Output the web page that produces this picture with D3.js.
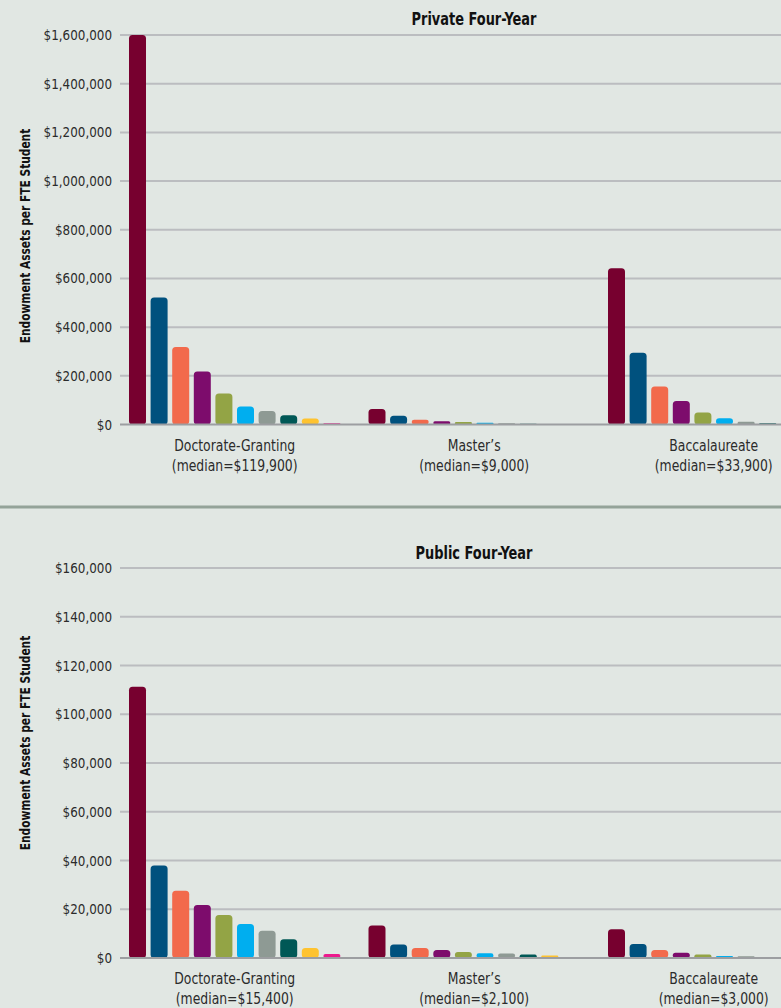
<!DOCTYPE html>
<html>
<head>
<meta charset="utf-8">
<script src="https://cdn.jsdelivr.net/npm/d3@7"></script>
<style>
  html, body { margin: 0; padding: 0; background: #e1e7e3; }
  svg { display: block; }
  text { font-family: "Liberation Sans Narrow", "DejaVu Sans Condensed", "Arial Narrow", sans-serif; }
</style>
</head>
<body>
<svg id="chart" width="781" height="1008"></svg>
<script>
// ---------- data ----------
const groups = ["Doctorate-Granting", "Master\u2019s", "Baccalaureate"];

const privateTitle = "Private Four-Year";
const privateMedians = ["$119,900", "$9,000", "$33,900"];
const privateDoctorate = [1600000, 522000, 318000, 218000, 127000, 74000, 55000, 38000, 25000, 5000];
const privateMasters   = [64000, 36000, 20000, 13000, 10000, 7000, 5000, 3000, 2000];
const privateBacc      = [642000, 295000, 156000, 97000, 49000, 26000, 11000, 5000, 2000];
const privateTicks = [0, 200000, 400000, 600000, 800000, 1000000, 1200000, 1400000, 1600000];

const publicTitle = "Public Four-Year";
const publicMedians = ["$15,400", "$2,100", "$3,000"];
const publicDoctorate = [111300, 38000, 27600, 21700, 17600, 14000, 11200, 7700, 4100, 1600];
const publicMasters   = [13300, 5500, 4100, 3300, 2500, 1900, 1800, 1400, 1000];
const publicBacc      = [11800, 5700, 3300, 2200, 1400, 800, 700, 300, 200];
const publicTicks = [0, 20000, 40000, 60000, 80000, 100000, 120000, 140000, 160000];

const yAxisTitle = "Endowment Assets per FTE Student";

// ---------- styles ----------
const palette = ["#77002f", "#00517e", "#f26a4c", "#7d0c6c", "#93a445", "#00aeef", "#8e9a94", "#005856", "#fec330", "#ec1a8d"];

const svg = d3.select("#chart");
const W = 781;

const panels = [
  { title: privateTitle, medians: privateMedians, series: [privateDoctorate, privateMasters, privateBacc],
    ticks: privateTicks, top: 35, bottom: 424.5, titleY: 25, yTitleY: 236 },
  { title: publicTitle, medians: publicMedians, series: [publicDoctorate, publicMasters, publicBacc],
    ticks: publicTicks, top: 568, bottom: 958, titleY: 559, yTitleY: 743 }
];

const gridLeft = 120;
const outerX = d3.scaleBand().domain(groups).range([129, 129 + 3 * 239.5]).paddingInner(0).paddingOuter(0);
const innerX = d3.scaleBand().domain(d3.range(10)).range([0, 211.4]).paddingInner(0.213).paddingOuter(0);
const fmt = d3.format("$,");

// condensed text helper: draws text horizontally compressed by sx
function ctext(parent, x, y, sx, rot) {
  const g = parent.append("g").attr("transform", `translate(${x},${y})${rot ? ` rotate(${rot})` : ""} scale(${sx},1)`);
  return g.append("text").attr("x", 0).attr("y", 0);
}

panels.forEach(p => {
  const y = d3.scaleLinear().domain([0, d3.max(p.ticks)]).range([p.bottom, p.top]);
  const g = svg.append("g");

  // gridlines
  g.selectAll("line.grid").data(p.ticks.filter(t => t > 0)).join("line")
    .attr("x1", gridLeft).attr("x2", W)
    .attr("y1", d => y(d)).attr("y2", d => y(d))
    .attr("stroke", "#bbbdc0").attr("stroke-width", 2);

  // tick labels
  p.ticks.forEach(t => {
    ctext(g, 112, y(t), 0.95).attr("dy", "0.36em").attr("text-anchor", "end")
      .attr("font-size", 14).attr("fill", "#2b2b2b").text(fmt(t));
  });

  // bars
  groups.forEach((grp, gi) => {
    g.selectAll(null).data(p.series[gi]).join("rect")
      .attr("x", (d, i) => outerX(grp) + innerX(i))
      .attr("width", innerX.bandwidth())
      .attr("y", d => y(d))
      .attr("height", d => Math.max(0, y(0) - y(d)))
      .attr("rx", d => Math.min(3.5, (y(0) - y(d)) / 2))
      .attr("ry", d => Math.min(3.5, (y(0) - y(d)) / 2))
      .attr("fill", (d, i) => palette[i]);
  });

  // baseline
  g.append("line").attr("x1", gridLeft).attr("x2", W)
    .attr("y1", y(0)).attr("y2", y(0))
    .attr("stroke", "#9c9ea1").attr("stroke-width", 2);

  // category labels
  groups.forEach((grp, gi) => {
    const cx = outerX(grp) + 211.4 / 2;
    ctext(g, cx, p.bottom + 26, 0.92).attr("text-anchor", "middle").attr("font-size", 15)
      .attr("fill", "#2b2b2b").text(grp);
    ctext(g, cx, p.bottom + 46, 0.92).attr("text-anchor", "middle").attr("font-size", 15)
      .attr("fill", "#2b2b2b").text("(median=" + p.medians[gi] + ")");
  });

  // panel title
  ctext(g, 474, p.titleY, 0.8).attr("text-anchor", "middle")
    .attr("font-size", 18).attr("font-weight", "bold").attr("fill", "#111")
    .text(p.title);

  // y-axis title
  ctext(g, 30, p.yTitleY, 0.845, -90)
    .attr("text-anchor", "middle").attr("font-size", 14).attr("font-weight", "bold").attr("fill", "#111")
    .text(yAxisTitle);
});

// separator
svg.append("line").attr("x1", 0).attr("x2", W).attr("y1", 507).attr("y2", 507)
  .attr("stroke", "#94a399").attr("stroke-width", 3);
</script>
</body>
</html>
